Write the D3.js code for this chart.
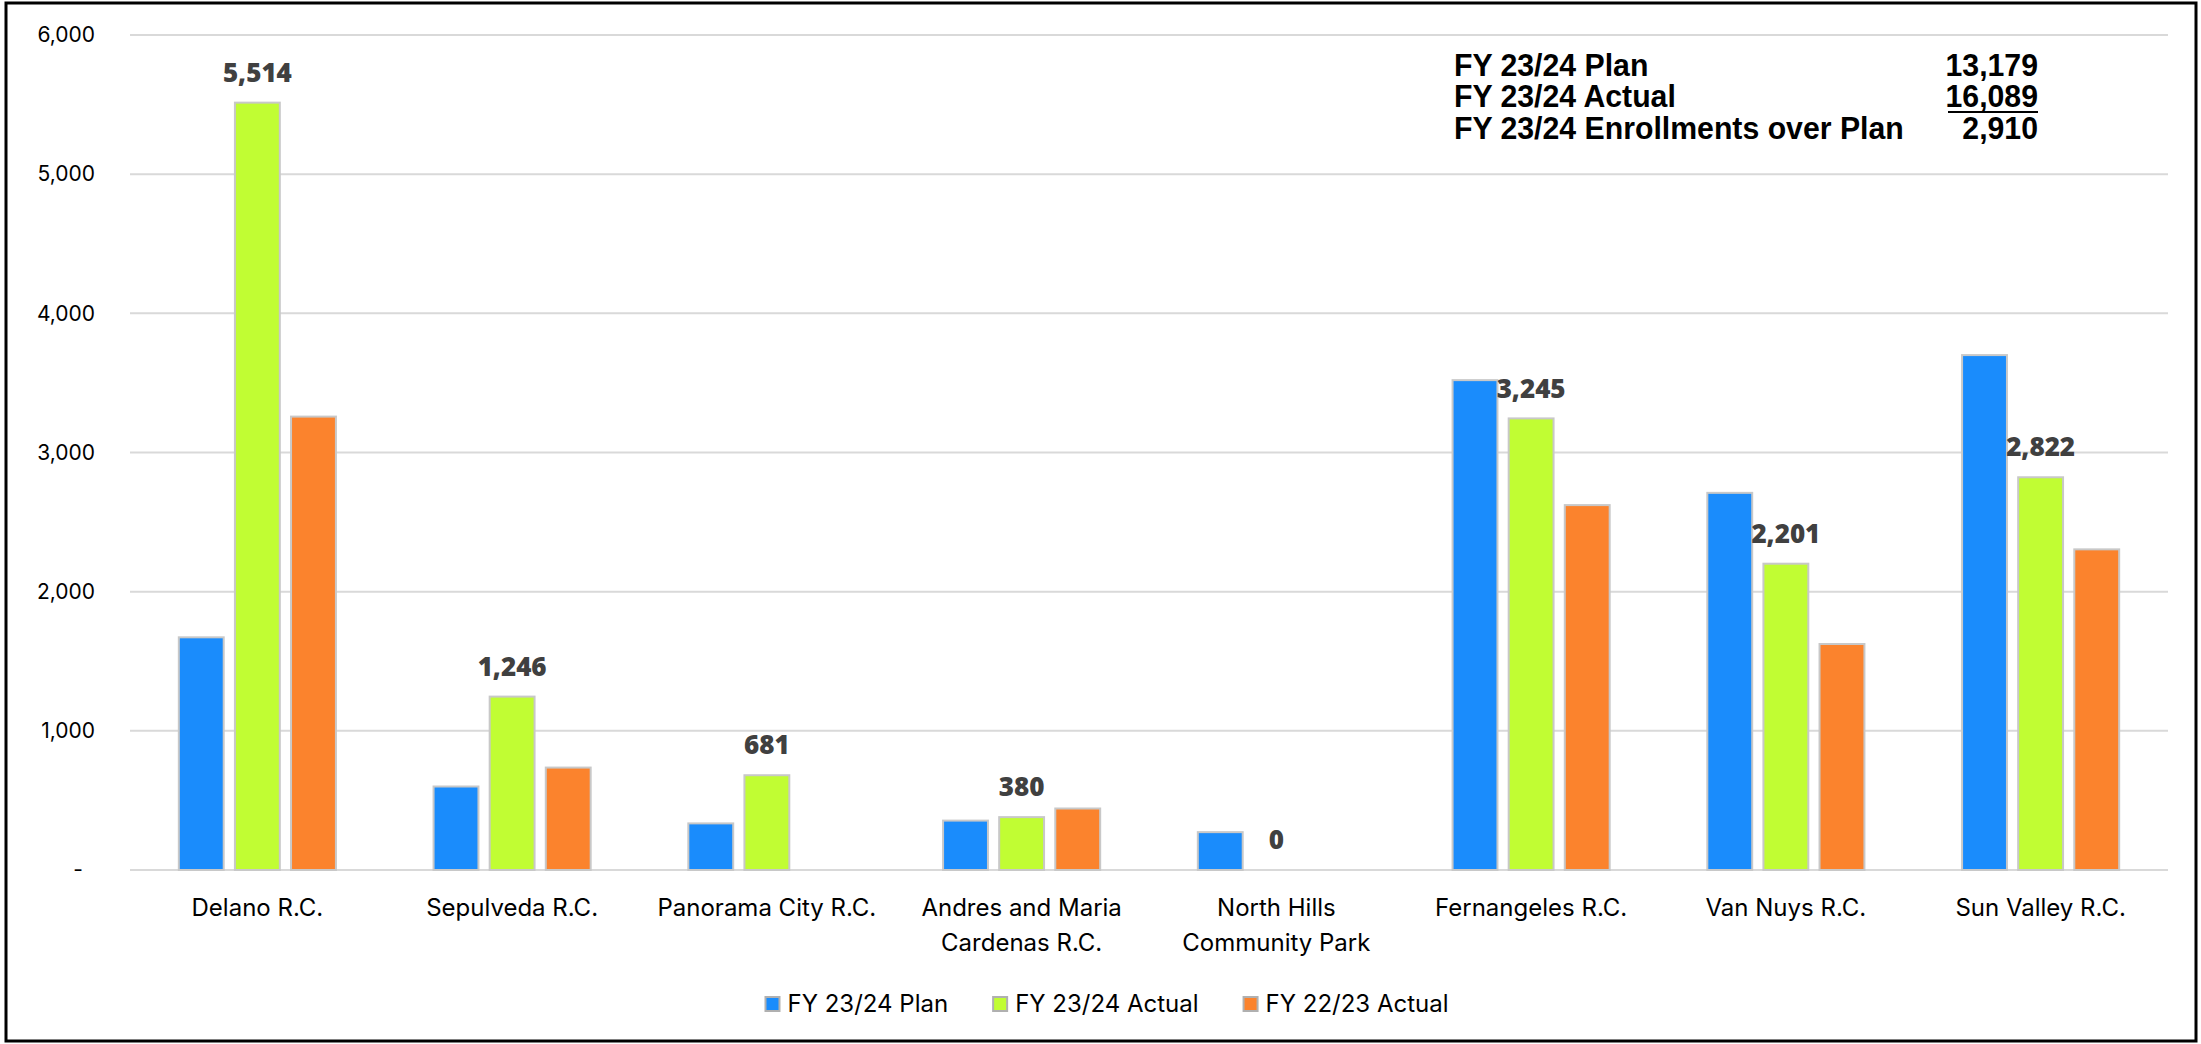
<script src="https://d3js.org/d3.v7.min.js"></script>
<style>
    body { background: #fff; margin: 0; }
    svg { display: block; }
    .tick text { font-family: Inter, "Open Sans", sans-serif; }
</style>

<svg width="2201" height="1044"></svg>

<script>
    const categories = ["Delano R.C.", "Sepulveda R.C.", "Panorama City R.C.", "Andres and Maria\nCardenas R.C.",
        "North Hills\nCommunity Park", "Fernangeles R.C.", "Van Nuys R.C.", "Sun Valley R.C."];
    const seriesNames = ["FY 23/24 Plan", "FY 23/24 Actual", "FY 22/23 Actual"];
    const plan = [1672, 600, 335, 355, 272, 3520, 2710, 3700];
    const actual = [5514, 1246, 681, 380, 0, 3245, 2201, 2822];
    const prior = [3258, 736, null, 442, null, 2622, 1624, 2304];
    const yTicks = [0, 1000, 2000, 3000, 4000, 5000, 6000];
    const summaryLabels = ["FY 23/24 Plan", "FY 23/24 Actual", "FY 23/24 Enrollments over Plan"];
    const summaryValues = [13179, 16089, 2910];
    const colors = ["#1a8cfc", "#c1fd33", "#fb832d"];

    const series = [plan, actual, prior];
    const svg = d3.select("svg");
    const m = { left: 130, right: 2168, top: 35, bottom: 870 };

    // frame
    svg.append("rect").attr("x", 6).attr("y", 3).attr("width", 2190).attr("height", 1038)
        .attr("fill", "#fff").attr("stroke", "#000").attr("stroke-width", 3);

    const x = d3.scaleBand().domain(categories).range([m.left, m.right]).padding(0);
    const xs = d3.scaleBand().domain(seriesNames).range([0, x.bandwidth()])
        .paddingInner(0.2).paddingOuter(0.87);
    const y = d3.scaleLinear().domain([0, 6000]).range([m.bottom, m.top]);

    // gridlines
    svg.append("g").selectAll("line").data(yTicks).enter().append("line")
        .attr("x1", m.left).attr("x2", m.right)
        .attr("y1", d => y(d)).attr("y2", d => y(d))
        .attr("stroke", "#d9d9d9").attr("stroke-width", 2);

    // y axis labels
    const yAxis = svg.append("g").attr("transform", `translate(${m.left},0)`)
        .call(d3.axisLeft(y).tickValues(yTicks).tickSize(0).tickPadding(35)
            .tickFormat(d => d === 0 ? "-" : d3.format(",")(d)));
    yAxis.select(".domain").remove();
    yAxis.selectAll("text").attr("font-size", 21).attr("fill", "#000")
        .attr("dx", d => d === 0 ? -12 : 0);

    // bars
    const groups = svg.append("g").selectAll("g").data(categories).enter().append("g")
        .attr("transform", d => `translate(${x(d)},0)`);
    groups.selectAll("rect")
        .data((c, i) => series.map((s, j) => ({ name: seriesNames[j], v: s[i], j })).filter(d => d.v))
        .enter().append("rect")
        .attr("x", d => xs(d.name)).attr("width", xs.bandwidth())
        .attr("y", d => y(d.v)).attr("height", d => y(0) - y(d.v))
        .attr("fill", d => colors[d.j]).attr("stroke", "#c8c8c8").attr("stroke-width", 2);

    // data labels on actual series
    svg.append("g").selectAll("text").data(categories).enter().append("text")
        .attr("x", d => x(d) + xs(seriesNames[1]) + xs.bandwidth() / 2)
        .attr("y", (d, i) => y(actual[i]) - 30)
        .attr("dy", "0.35em")
        .attr("text-anchor", "middle")
        .attr("font-family", "'Open Sans', sans-serif").attr("font-weight", 800)
        .attr("font-size", 26).attr("fill", "#404040")
        .text((d, i) => d3.format(",")(actual[i]));

    // category labels
    const cl = svg.append("g").selectAll("text").data(categories).enter().append("text")
        .attr("x", d => x(d) + x.bandwidth() / 2)
        .attr("y", 916)
        .attr("text-anchor", "middle")
        .attr("font-family", "Inter, 'Open Sans', sans-serif").attr("font-size", 24).attr("fill", "#000");
    cl.selectAll("tspan").data(d => d.split("\n")).enter().append("tspan")
        .attr("x", function () { return this.parentNode.getAttribute("x"); })
        .attr("dy", (d, i) => i ? 35 : 0)
        .text(d => d);

    // legend
    const legend = svg.append("g");
    const items = legend.selectAll("g").data(seriesNames).enter().append("g");
    items.append("rect").attr("width", 14).attr("height", 14).attr("y", -7)
        .attr("fill", (d, i) => colors[i]).attr("stroke", "#b0b0b0").attr("stroke-width", 2);
    items.append("text").attr("x", 22).attr("dy", "0.35em")
        .attr("font-family", "Inter, 'Open Sans', sans-serif").attr("font-size", 24).attr("fill", "#000")
        .text(d => d);
    let off = 0;
    items.each(function () {
        const w = this.getBBox().width;
        d3.select(this).attr("transform", `translate(${off},0)`);
        off += w + 45;
    });
    const total = off - 45;
    legend.attr("transform", `translate(${1107 - total / 2},1004)`);

    // summary box (condensed look via horizontal scale)
    const sx = 0.945, sLeft = 1454, sRight = 2038;
    const summary = svg.append("g")
        .attr("transform", `translate(${sLeft},0) scale(${sx},1)`)
        .attr("font-family", "'Liberation Sans', Arial, sans-serif")
        .attr("font-weight", 700).attr("font-size", 32).attr("fill", "#000");
    summary.selectAll("text.lab").data(summaryLabels).enter().append("text")
        .attr("class", "lab").attr("x", 0).attr("y", (d, i) => 76 + i * 31.5).text(d => d);
    summary.selectAll("text.val").data(summaryValues).enter().append("text")
        .attr("class", "val").attr("x", (sRight - sLeft) / sx).attr("y", (d, i) => 76 + i * 31.5)
        .attr("text-anchor", "end").text(d => d3.format(",")(d));
    summary.append("line").attr("x1", (1948 - sLeft) / sx).attr("x2", (sRight - sLeft) / sx)
        .attr("y1", 112).attr("y2", 112)
        .attr("stroke", "#000").attr("stroke-width", 2);
</script>
